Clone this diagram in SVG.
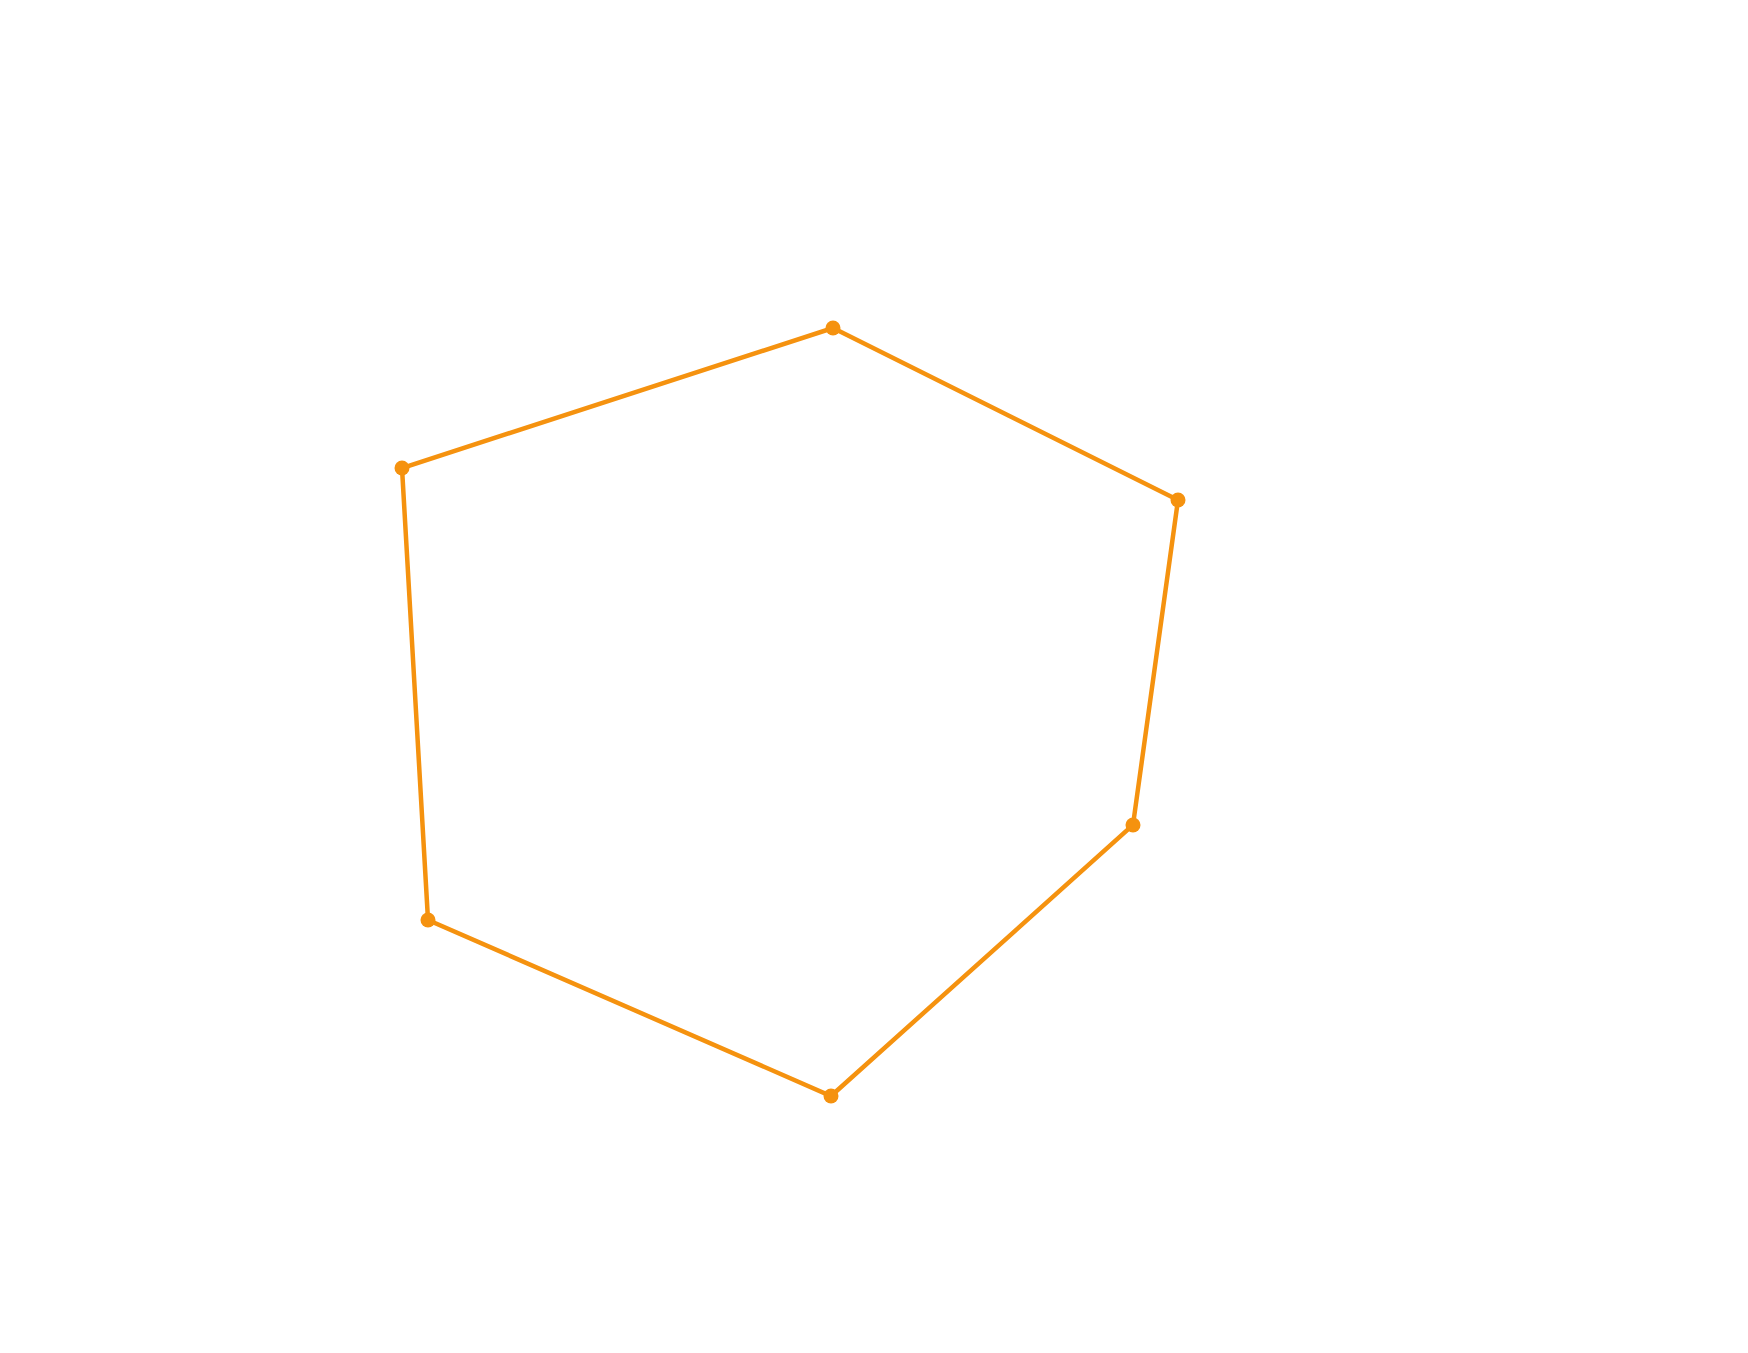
<svg xmlns="http://www.w3.org/2000/svg" width="1748" height="1353" viewBox="0 0 1748 1353">
<style>.e{stroke:#f5920f;stroke-width:4.5;fill:none}.n{fill:#f5920f}</style>
<rect width="1748" height="1353" fill="#fff"/>
<g id="connectors">
<polygon class="e" points="833,328 1178,500 1133,825 831,1096 428,920 402,468"/>
</g>
<g id="n1"><circle class="n" cx="833" cy="328" r="7.5"/></g>
<g id="n2"><circle class="n" cx="1178" cy="500" r="7.5"/></g>
<g id="n3"><circle class="n" cx="1133" cy="825" r="7.5"/></g>
<g id="n4"><circle class="n" cx="831" cy="1096" r="7.5"/></g>
<g id="n5"><circle class="n" cx="428" cy="920" r="7.5"/></g>
<g id="n6"><circle class="n" cx="402" cy="468" r="7.5"/></g>
</svg>
